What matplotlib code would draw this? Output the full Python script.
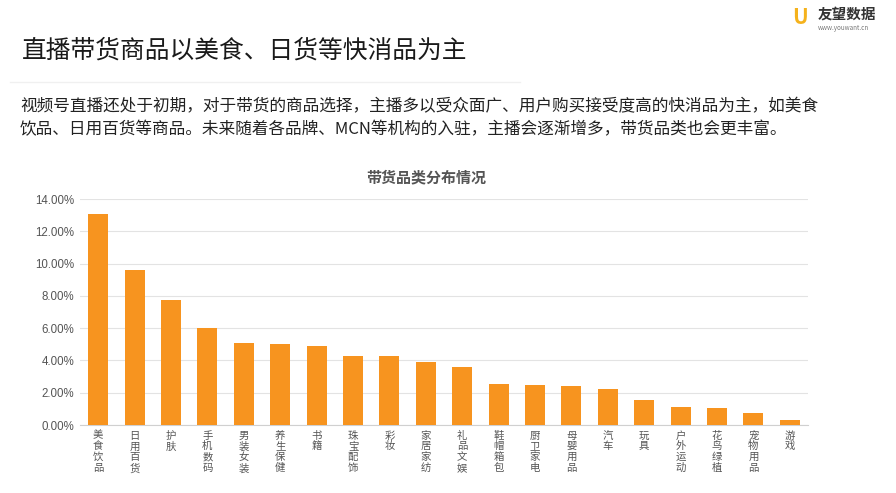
import matplotlib.pyplot as plt
from matplotlib.ticker import FuncFormatter

plt.rcParams['font.family'] = ['Noto Sans CJK SC', 'DejaVu Sans']

# 带货品类分布
categories = ['美食饮品', '日用百货', '护肤', '手机数码', '男装女装', '养生保健', '书籍',
              '珠宝配饰', '彩妆', '家居家纺', '礼品文娱', '鞋帽箱包', '厨卫家电', '母婴用品',
              '汽车', '玩具', '户外运动', '花鸟绿植', '宠物用品', '游戏']
shares = [13.1, 9.6, 7.75, 6.0, 5.1, 5.0, 4.9, 4.3, 4.25, 3.9, 3.6, 2.55, 2.5, 2.4,
          2.25, 1.55, 1.1, 1.05, 0.75, 0.3]
yticks = [0, 2, 4, 6, 8, 10, 12, 14]

title = '直播带货商品以美食、日货等快消品为主'
desc = ['视频号直播还处于初期，对于带货的商品选择，主播多以受众面广、用户购买接受度高的快消品为主，如美食',
        '饮品、日用百货等商品。未来随着各品牌、MCN等机构的入驻，主播会逐渐增多，带货品类也会更丰富。']
chart_title = '带货品类分布情况'

fig = plt.figure(figsize=(8.96, 4.93), dpi=100)
fig.patch.set_facecolor('white')

# header
fig.text(22 / 896, 1 - 51 / 493, title, fontsize=17.8, color='#1a1a1a', va='center', ha='left')
fig.add_artist(plt.Line2D([10 / 896, 520 / 896], [1 - 82 / 493] * 2, color='#f0f0f0', lw=1))
for i, line in enumerate(desc):
    fig.text(20 / 896, 1 - (107 + i * 23) / 493, line, fontsize=12, color='#222222',
             va='center', ha='left')

# logo
fig.text(800 / 896, 1 - 18 / 493, 'U', fontsize=15, fontweight='bold', color='#f5b21c',
         ha='center', va='center')
fig.text(818 / 896, 1 - 14 / 493, '友望数据', fontsize=10.5, fontweight='bold', color='#333333',
         ha='left', va='center')
fig.text(818 / 896, 1 - 28 / 493, 'www.youwant.cn', fontsize=4.5, color='#777777',
         ha='left', va='center')

fig.text(426 / 896, 1 - 177 / 493, chart_title, fontsize=10.8, fontweight='bold', color='#555555',
         ha='center', va='center')

ax = fig.add_axes([80 / 896, 1 - 425 / 493, 728 / 896, 226 / 493])
x = range(len(categories))
ax.bar(x, shares, width=0.55, color='#f7941f', zorder=3)
ax.set_xlim(-0.5, len(categories) - 0.5)
ax.set_ylim(0, 14)
ax.set_yticks(yticks)
ax.yaxis.set_major_formatter(FuncFormatter(lambda v, p: '%.2f%%' % v))
for lab in ax.get_yticklabels():
    lab.set_family(['Liberation Sans', 'DejaVu Sans'])
ax.set_xticks(list(x))
ax.set_xticklabels(['\n'.join(c) for c in categories], fontsize=7.5, color='#555555',
                   linespacing=1.1, va='top')
ax.tick_params(axis='y', labelsize=8.3, labelcolor='#555555', length=0, pad=4)
ax.tick_params(axis='x', length=0, pad=4)
ax.grid(axis='y', color='#e3e3e3', lw=0.8, zorder=0)
for s in ['top', 'right', 'left']:
    ax.spines[s].set_visible(False)
ax.spines['bottom'].set_color('#d0d0d0')

fig.savefig('out.png', dpi=100)
